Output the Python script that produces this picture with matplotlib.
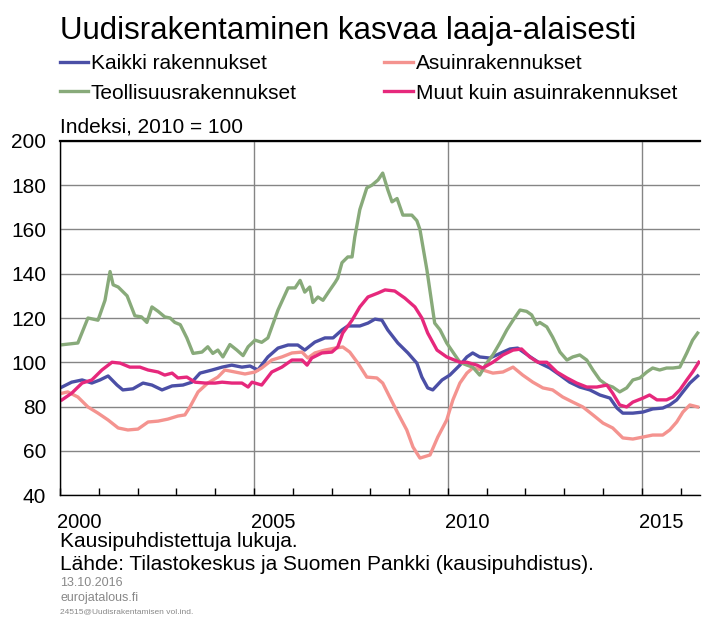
import matplotlib.pyplot as plt
from matplotlib.ticker import FixedLocator, NullFormatter

plt.rcParams['font.family'] = ['Liberation Sans', 'DejaVu Sans']

# Kaikki rakennukset (year, index)
t_kaikki = [2000.05, 2000.3, 2000.57, 2000.82, 2001.03, 2001.24, 2001.47, 2001.62, 2001.88, 2002.14,
            2002.37, 2002.63, 2002.89, 2003.17, 2003.4, 2003.61, 2003.92, 2004.18, 2004.43, 2004.69,
            2004.9, 2005.1, 2005.36, 2005.62, 2005.88, 2006.13, 2006.31, 2006.57, 2006.83, 2007.04,
            2007.27, 2007.42, 2007.73, 2007.94, 2008.12, 2008.3, 2008.45, 2008.71, 2008.97, 2009.2,
            2009.33, 2009.48, 2009.61, 2009.85, 2010.05, 2010.31, 2010.49, 2010.64, 2010.82, 2011.08,
            2011.26, 2011.42, 2011.6, 2011.8, 2011.98, 2012.16, 2012.37, 2012.63, 2012.89, 2013.14,
            2013.4, 2013.66, 2013.92, 2014.18, 2014.36, 2014.51, 2014.77, 2015.03, 2015.28, 2015.54,
            2015.72, 2015.9, 2016.06, 2016.24, 2016.44]
kaikki = [88.8, 91, 92, 90.6, 92, 93.8, 89.7, 87.5, 88, 90.6,
          89.7, 87.5, 89.3, 89.7, 91, 95.1, 96.5, 97.8, 98.7, 97.8,
          98.3, 96.5, 102.4, 106.4, 107.8, 107.8, 105.5, 109.1, 111, 111,
          114.6, 116.4, 116.4, 117.7, 119.5, 119, 114.6, 108.7, 104.2, 99.6,
          93.3, 88.4, 87.5, 92, 94.2, 98.7, 102.4, 104.2, 102.4, 101.9,
          103.3, 104.6, 106, 106.4, 104.2, 102, 99.6, 97.4, 94.2, 91,
          88.8, 87.5, 85.2, 83.8, 79.3, 77, 77, 77.5, 78.9, 79.3,
          80.7, 83, 86.6, 90.6, 93.8]

# Asuinrakennukset
t_asuin = [2000.05, 2000.2, 2000.46, 2000.72, 2000.98, 2001.24, 2001.5, 2001.75, 2002.01, 2002.27,
           2002.53, 2002.78, 2003.04, 2003.22, 2003.35, 2003.56, 2003.81, 2004.07, 2004.25, 2004.51,
           2004.77, 2005.03, 2005.2, 2005.46, 2005.72, 2005.98, 2006.24, 2006.39, 2006.57, 2006.83,
           2007.09, 2007.29, 2007.47, 2007.68, 2007.91, 2008.17, 2008.32, 2008.5, 2008.71, 2008.94,
           2009.1, 2009.28, 2009.54, 2009.74, 2009.97, 2010.13, 2010.31, 2010.49, 2010.64, 2010.9,
           2011.16, 2011.42, 2011.68, 2011.93, 2012.19, 2012.45, 2012.7, 2012.96, 2013.22, 2013.48,
           2013.74, 2014.0, 2014.25, 2014.51, 2014.77, 2015.03, 2015.28, 2015.54, 2015.72, 2015.9,
           2016.06, 2016.24, 2016.44]
asuin = [86, 86.6, 84.3, 79.8, 77, 73.9, 70.3, 69.4, 69.8, 73,
         73.4, 74.3, 75.7, 76.2, 79.8, 86.6, 90.6, 93.3, 96.5, 95.6,
         94.7, 95.6, 97.4, 101, 102.4, 104.2, 104.6, 101.9, 104.2, 105.5,
         106.4, 106.9, 104.6, 99.6, 93.3, 92.9, 90.6, 84.3, 77, 69.4,
         61.7, 56.7, 58.1, 66.2, 73.9, 83, 90.6, 95.1, 97.4, 96.5,
         95.1, 95.6, 97.8, 94.2, 91, 88.4, 87.5, 84.3, 82, 79.8,
         76.2, 72.5, 70.3, 65.8, 65.3, 66.2, 67.1, 67.1, 69.4, 73,
         77.5, 80.7, 79.8]

# Teollisuusrakennukset
t_teoll = [2000.0, 2000.46, 2000.72, 2000.98, 2001.16, 2001.29, 2001.37, 2001.5, 2001.73, 2001.93,
           2002.1, 2002.24, 2002.37, 2002.53, 2002.7, 2002.84, 2002.96, 2003.1, 2003.27, 2003.43,
           2003.66, 2003.81, 2003.94, 2004.07, 2004.2, 2004.38, 2004.56, 2004.72, 2004.85, 2005.03,
           2005.2, 2005.36, 2005.62, 2005.88, 2006.06, 2006.19, 2006.31, 2006.44, 2006.52, 2006.65,
           2006.78, 2006.96, 2007.09, 2007.16, 2007.27, 2007.42, 2007.53, 2007.6, 2007.73, 2007.91,
           2008.04, 2008.2, 2008.32, 2008.45, 2008.56, 2008.69, 2008.84, 2009.07, 2009.2, 2009.28,
           2009.46, 2009.66, 2009.8, 2009.97, 2010.18, 2010.31, 2010.49, 2010.64, 2010.82, 2011.0,
           2011.16, 2011.34, 2011.52, 2011.68, 2011.86, 2012.03, 2012.16, 2012.29, 2012.37, 2012.55,
           2012.7, 2012.89, 2013.07, 2013.22, 2013.4, 2013.58, 2013.74, 2013.92, 2014.1, 2014.25,
           2014.43, 2014.61, 2014.77, 2014.95, 2015.13, 2015.28, 2015.46, 2015.64, 2015.8, 2015.98,
           2016.16, 2016.31, 2016.44]
teoll = [107.8, 108.7, 120, 119, 128, 141, 135, 134, 130, 121,
         120.5, 118, 125, 123, 120.5, 120, 118, 117, 111, 104,
         104.6, 107, 104, 105.5, 102.4, 108, 105.5, 103, 107, 110,
         109, 111, 123.6, 133.6, 133.6, 137, 131.7, 134, 127, 129.5,
         128, 132.7, 136, 138, 145, 147.6, 147.6, 156.6, 169, 178.8,
         180, 182.4, 185.5, 178, 172.5, 174, 166.5, 166.5, 164, 160,
         141.7, 117.7, 114.6, 108.7, 103.3, 100, 98.7, 97.8, 94.2, 99.6,
         103.3, 108.7, 114.6, 119, 123.6, 123, 121.4, 117, 118, 116,
         111.4, 104.6, 101, 102.4, 103.3, 101, 96.5, 92, 89.7, 88.8,
         86.6, 88.4, 92, 92.9, 95.6, 97.4, 96.5, 97.4, 97.4, 97.8,
         104.2, 110, 113.2]

# Muut kuin asuinrakennukset
t_muut = [2000.05, 2000.3, 2000.57, 2000.82, 2001.08, 2001.34, 2001.55, 2001.8, 2002.06, 2002.27,
          2002.53, 2002.7, 2002.89, 2003.04, 2003.27, 2003.48, 2003.74, 2004.0, 2004.18, 2004.43,
          2004.69, 2004.85, 2004.95, 2005.2, 2005.46, 2005.72, 2005.98, 2006.24, 2006.37, 2006.49,
          2006.75, 2007.01, 2007.16, 2007.29, 2007.53, 2007.73, 2007.94, 2008.2, 2008.38, 2008.63,
          2008.89, 2009.15, 2009.33, 2009.48, 2009.72, 2009.97, 2010.31, 2010.49, 2010.75, 2010.9,
          2011.16, 2011.42, 2011.68, 2011.9, 2012.11, 2012.32, 2012.55, 2012.81, 2013.07, 2013.32,
          2013.58, 2013.84, 2014.1, 2014.25, 2014.43, 2014.61, 2014.77, 2015.03, 2015.2, 2015.39,
          2015.64, 2015.8, 2015.98, 2016.16, 2016.31, 2016.47]
muut = [83, 86, 90.6, 92, 96.5, 100, 99.6, 97.8, 97.8, 96.5,
        95.6, 94.2, 95.1, 92.9, 93.3, 91, 90.6, 90.6, 91, 90.6,
        90.6, 88.8, 91, 89.7, 95.6, 97.8, 101, 101, 98.7, 101.9,
        104.2, 104.6, 106.9, 113.2, 119, 125, 129.5, 131.3, 132.7, 132.2,
        129, 125, 120, 113.2, 105.5, 102.4, 100, 100, 98.7, 97.4,
        100, 103.3, 105.5, 106, 102.4, 100, 100, 95.6, 92.9, 90.6,
        88.8, 88.8, 89.7, 86, 80.7, 79.8, 82, 83.8, 85.2, 83,
        83, 84.3, 87.5, 92, 95.6, 100]

years = [2000, 2005, 2010, 2015]
year_labels = ['2000', '2005', '2010', '2015']

fig = plt.figure(figsize=(7.11, 6.17), dpi=100)
ax = fig.add_axes([0.0844, 0.1977, 0.9001, 0.5738])

lw = 2.4
l1, = ax.plot(t_kaikki, kaikki, color='#4b4fa6', lw=lw, label='Kaikki rakennukset')
l2, = ax.plot(t_asuin, asuin, color='#f4938f', lw=lw, label='Asuinrakennukset')
l3, = ax.plot(t_teoll, teoll, color='#88aa7a', lw=lw, label='Teollisuusrakennukset')
l4, = ax.plot(t_muut, muut, color='#e6287c', lw=lw, label='Muut kuin asuinrakennukset')

ax.set_xlim(2000, 2016.5)
ax.set_ylim(40, 200)
ax.set_yticks(range(40, 201, 20))
ax.xaxis.set_major_locator(FixedLocator(years))
ax.xaxis.set_major_formatter(NullFormatter())
ax.xaxis.set_minor_locator(FixedLocator(range(2000, 2017)))
ax.tick_params(axis='x', which='both', direction='in', length=5, width=1, color='black')
ax.tick_params(axis='y', length=0, labelsize=15, pad=10)
for y, lab in zip(years, year_labels):
    ax.text(y + 0.5, -0.05, lab, transform=ax.get_xaxis_transform(), ha='center', va='top', fontsize=14.5)

ax.grid(True, which='major', color='#858585', lw=1)
ax.set_axisbelow(True)
ax.spines['right'].set_visible(False)
for s in ['left', 'bottom', 'top']:
    ax.spines[s].set_color('black')
    ax.spines[s].set_linewidth(1)
ax.spines['top'].set_linewidth(1.6)

fig.text(0.0844, 0.950, 'Uudisrakentaminen kasvaa laaja-alaisesti', fontsize=22.5, va='center', ha='left')
fig.legend(handles=[l1, l3, l2, l4], ncol=2, loc='upper left', bbox_to_anchor=(0.084, 0.912),
           frameon=False, fontsize=15, handlelength=1.35, handletextpad=0.15,
           columnspacing=4.2, labelspacing=0.5, borderaxespad=0, borderpad=0)
fig.text(0.0844, 0.794, 'Indeksi, 2010 = 100', fontsize=15, va='center', ha='left')

fig.text(0.0844, 0.123, 'Kausipuhdistettuja lukuja.', fontsize=15, va='center', ha='left')
fig.text(0.0844, 0.085, 'Lähde: Tilastokeskus ja Suomen Pankki (kausipuhdistus).', fontsize=15, va='center', ha='left')
fig.text(0.0844, 0.055, '13.10.2016', fontsize=9, color='#888888', va='center', ha='left')
fig.text(0.0844, 0.031, 'eurojatalous.fi', fontsize=9, color='#888888', va='center', ha='left')
fig.text(0.0844, 0.009, '24515@Uudisrakentamisen vol.ind.', fontsize=6, color='#888888', va='center', ha='left')

fig.savefig('out.png', dpi=100)
